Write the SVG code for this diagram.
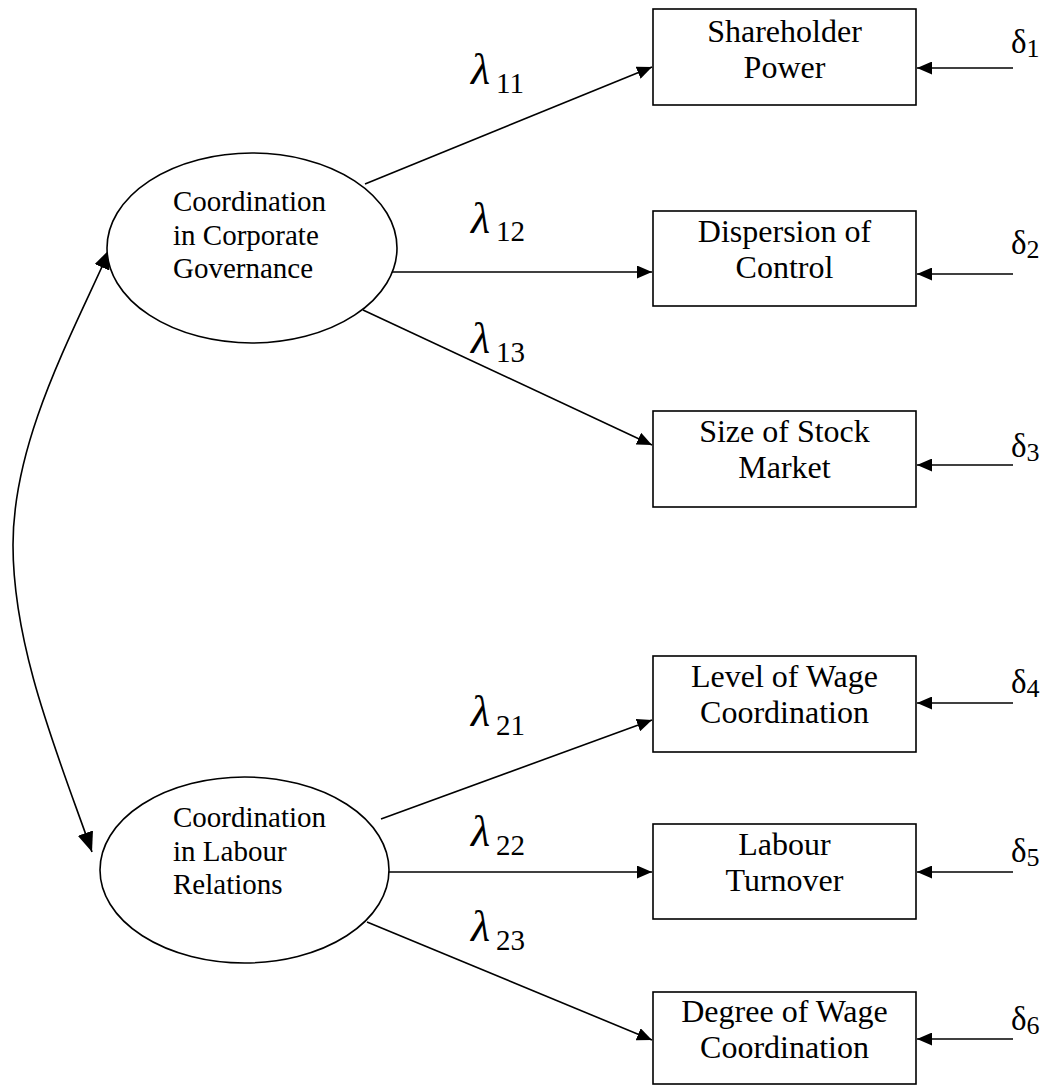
<svg xmlns="http://www.w3.org/2000/svg" width="1051" height="1086" viewBox="0 0 1051 1086">
<style>
text,tspan{font-family:"Liberation Serif","Times New Roman",serif;fill:#000}
.bg{fill:#fff}
.shape{fill:#fff;stroke:#000;stroke-width:1.6}
.conn{fill:none;stroke:#000;stroke-width:1.6}
.etxt{font-size:29px}
.btxt{font-size:32px;text-anchor:middle}
.lam{font-size:44px;font-style:italic}
.sub{font-size:29px;font-style:normal}
.del{font-size:33px}
.dsub{font-size:26px}
</style>
<defs>
<marker id="ah" viewBox="0 0 15 13" refX="15" refY="6.5" markerWidth="15" markerHeight="13" markerUnits="userSpaceOnUse" orient="auto"><path d="M0,0 L15,6.5 L0,13 z" fill="#000"/></marker>
<marker id="ahc" viewBox="0 0 20 16" refX="20" refY="8" markerWidth="20" markerHeight="16" markerUnits="userSpaceOnUse" orient="auto-start-reverse"><path d="M0,0 L20,8 L0,16 z" fill="#000"/></marker>
</defs>
<rect class="bg" x="0" y="0" width="1051" height="1086"/>

<g id="connectors">
<path class="conn" d="M110,249 C72,335 13,440 13,545 C13,650 60,760 92,852" marker-start="url(#ahc)" marker-end="url(#ahc)"/>
<line class="conn" x1="365" y1="184" x2="652" y2="67" marker-end="url(#ah)"/>
<line class="conn" x1="388" y1="272" x2="652" y2="272" marker-end="url(#ah)"/>
<line class="conn" x1="363" y1="310" x2="652" y2="445" marker-end="url(#ah)"/>
<line class="conn" x1="381" y1="819" x2="652" y2="720" marker-end="url(#ah)"/>
<line class="conn" x1="388" y1="872" x2="652" y2="872" marker-end="url(#ah)"/>
<line class="conn" x1="367" y1="922" x2="652" y2="1040" marker-end="url(#ah)"/>
<line class="conn" x1="1013" y1="68" x2="917" y2="68" marker-end="url(#ah)"/>
<line class="conn" x1="1013" y1="274" x2="917" y2="274" marker-end="url(#ah)"/>
<line class="conn" x1="1013" y1="465" x2="917" y2="465" marker-end="url(#ah)"/>
<line class="conn" x1="1013" y1="703" x2="917" y2="703" marker-end="url(#ah)"/>
<line class="conn" x1="1013" y1="872" x2="917" y2="872" marker-end="url(#ah)"/>
<line class="conn" x1="1013" y1="1039" x2="917" y2="1039" marker-end="url(#ah)"/>
</g>

<g id="loading-labels">
<text class="lam" x="471" y="84">λ<tspan class="sub" x="496" y="93">11</tspan></text>
<text class="lam" x="471" y="233">λ<tspan class="sub" x="496" y="241">12</tspan></text>
<text class="lam" x="471" y="353">λ<tspan class="sub" x="496" y="362">13</tspan></text>
<text class="lam" x="471" y="726">λ<tspan class="sub" x="496" y="735">21</tspan></text>
<text class="lam" x="471" y="846">λ<tspan class="sub" x="496" y="855">22</tspan></text>
<text class="lam" x="471" y="941">λ<tspan class="sub" x="496" y="950">23</tspan></text>
</g>

<g id="latent-corporate">
<ellipse class="shape" cx="252" cy="248" rx="145" ry="95"/>
<text class="etxt" x="173" y="211">Coordination</text>
<text class="etxt" x="173" y="245">in Corporate</text>
<text class="etxt" x="173" y="278">Governance</text>
</g>

<g id="latent-labour">
<ellipse class="shape" cx="244.5" cy="870" rx="144.5" ry="93"/>
<text class="etxt" x="173" y="827">Coordination</text>
<text class="etxt" x="173" y="861">in Labour</text>
<text class="etxt" x="173" y="894">Relations</text>
</g>

<g id="shareholder-power">
<rect class="shape" x="653" y="9" width="263" height="96"/>
<text class="btxt" x="784.5" y="42">Shareholder</text>
<text class="btxt" x="784.5" y="78">Power</text>
</g>
<g id="dispersion-of-control">
<rect class="shape" x="653" y="211" width="263" height="95"/>
<text class="btxt" x="784.5" y="242">Dispersion of</text>
<text class="btxt" x="784.5" y="278">Control</text>
</g>
<g id="size-of-stock-market">
<rect class="shape" x="653" y="411" width="263" height="96"/>
<text class="btxt" x="784.5" y="442">Size of Stock</text>
<text class="btxt" x="784.5" y="478">Market</text>
</g>
<g id="level-of-wage-coordination">
<rect class="shape" x="653" y="656" width="263" height="96"/>
<text class="btxt" x="784.5" y="687">Level of Wage</text>
<text class="btxt" x="784.5" y="723">Coordination</text>
</g>
<g id="labour-turnover">
<rect class="shape" x="653" y="824" width="263" height="95"/>
<text class="btxt" x="784.5" y="855">Labour</text>
<text class="btxt" x="784.5" y="891">Turnover</text>
</g>
<g id="degree-of-wage-coordination">
<rect class="shape" x="653" y="992" width="263" height="92"/>
<text class="btxt" x="784.5" y="1022">Degree of Wage</text>
<text class="btxt" x="784.5" y="1058">Coordination</text>
</g>

<g id="error-terms">
<text class="del" x="1011" y="53">δ<tspan class="dsub" dy="4">1</tspan></text>
<text class="del" x="1011" y="254">δ<tspan class="dsub" dy="4">2</tspan></text>
<text class="del" x="1011" y="457">δ<tspan class="dsub" dy="4">3</tspan></text>
<text class="del" x="1011" y="693">δ<tspan class="dsub" dy="4">4</tspan></text>
<text class="del" x="1011" y="862">δ<tspan class="dsub" dy="4">5</tspan></text>
<text class="del" x="1011" y="1030">δ<tspan class="dsub" dy="4">6</tspan></text>
</g>
</svg>
